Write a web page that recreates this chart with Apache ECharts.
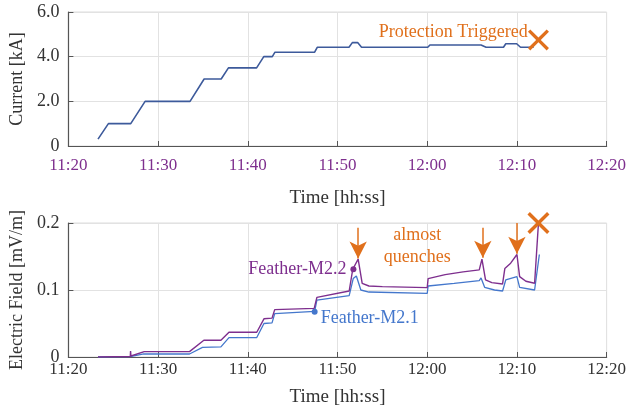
<!DOCTYPE html>
<html>
<head>
<meta charset="utf-8">
<script src="https://cdn.jsdelivr.net/npm/echarts@6/dist/echarts.min.js"></script>
<style>html,body{margin:0;padding:0;background:#fff}#c{width:629px;height:416px}</style>
</head>
<body>
<div id="c"></div>
<script>
// time values are minutes after 11:20
const startClock = [11, 20];
const xTickMin = 0, xTickMax = 60, xTickStep = 10;

const currentTime = [3.3, 4.46, 6.95, 8.55, 13.56, 15.13, 17.03, 17.84, 20.98, 21.78, 22.73, 23.03, 27.45, 27.74, 31.28, 31.65, 32.24, 32.68, 40.06, 40.3, 46.0, 46.56, 48.5, 48.76, 49.97, 50.4, 51.86];
const currentKA   = [0.31, 1.0, 1.0, 2.0, 2.0, 3.0, 3.0, 3.5, 3.5, 4.0, 4.0, 4.2, 4.2, 4.42, 4.42, 4.63, 4.63, 4.42, 4.42, 4.52, 4.52, 4.42, 4.42, 4.58, 4.58, 4.42, 4.42];

const m22Time = [3.3, 6.9, 6.93, 6.97, 8.45, 13.5, 15.1, 17.0, 17.9, 21.0, 21.8, 22.7, 23.0, 27.4, 27.7, 31.3, 31.7, 32.3, 32.75, 33.5, 35.0, 40.0, 40.1, 42.0, 44.0, 45.8, 46.1, 46.5, 47.2, 48.4, 48.65, 49.3, 50.0, 50.3, 51.0, 51.97, 52.4];
const m22Field = [0, 0.0008, 0.009, 0.0015, 0.008, 0.008, 0.025, 0.025, 0.037, 0.037, 0.057, 0.058, 0.0707, 0.0726, 0.089, 0.0985, 0.131, 0.146, 0.11, 0.106, 0.105, 0.1035, 0.117, 0.123, 0.127, 0.13, 0.146, 0.115, 0.111, 0.109, 0.132, 0.14, 0.153, 0.12, 0.113, 0.11, 0.2];

const m21Time = [3.3, 6.9, 8.4, 13.5, 14.95, 17.0, 17.9, 21.0, 21.8, 22.7, 23.0, 27.45, 27.7, 31.3, 31.75, 32.1, 32.6, 33.5, 40.0, 40.1, 43.0, 45.8, 46.0, 46.4, 47.5, 48.4, 48.75, 50.0, 50.3, 51.97, 52.5];
const m21Field = [0, 0.0005, 0.0045, 0.0045, 0.0144, 0.015, 0.029, 0.029, 0.05, 0.051, 0.0647, 0.068, 0.085, 0.0915, 0.117, 0.121, 0.10, 0.097, 0.095, 0.106, 0.110, 0.114, 0.118, 0.104, 0.100, 0.0985, 0.115, 0.12, 0.104, 0.10, 0.153];

const currentTicks = [0, 2, 4, 6];
const fieldTicks = [0, 0.1, 0.2];

// annotations (data coordinates)
const tripTime = 52.4, tripCurrent = 4.75, tripField = 0.2;
const protectionText = 'Protection Triggered', protectionAt = [42.9, 5.1];
const quenchText = 'almost\nquenches', quenchAt = [38.9, 0.166];
const arrowTimes = [32.3, 46.2, 50.0];
const arrowTop = [0.193, 0.193, 0.2];
const arrowTip = [0.147, 0.148, 0.154];
const m22Label = 'Feather-M2.2', m22LabelAt = [31.77, 0.131];
const m21Label = 'Feather-M2.1', m21LabelAt = [27.45, 0.0676];

const zip = (a, b) => a.map((v, i) => [v, b[i]]);
const FONT = 'Liberation Serif';
const PURPLE = '#7E2F8E', BLUE = '#4477CC', ORANGE = '#E0701C', NAVY = '#3D5A9B';
const crossPath = 'path://M0 11L11 0L50 39L89 0L100 11L61 50L100 89L89 100L50 61L11 100L0 89L39 50Z';

function clock(v) {
  const tot = startClock[0] * 60 + startClock[1] + v;
  const h = Math.floor(tot / 60), m = tot % 60;
  return h + ':' + (m < 10 ? '0' : '') + m;
}

function xAxisCfg(gi, labelColor, labelMargin, nameGap) {
  return {
    gridIndex: gi, type: 'value', min: xTickMin, max: xTickMax, interval: xTickStep,
    name: 'Time [hh:ss]', nameLocation: 'middle', nameGap: nameGap,
    nameTextStyle: { fontFamily: FONT, fontSize: 19, color: '#333' },
    axisLine: { lineStyle: { color: '#555', width: 1.2 } },
    axisTick: { inside: true, length: 5, lineStyle: { color: '#555' } },
    axisLabel: { fontFamily: FONT, fontSize: 17, color: labelColor, margin: labelMargin, formatter: clock },
    splitLine: { show: true, lineStyle: { color: '#e2e2e2', width: 1 } }
  };
}
function yAxisCfg(gi, name, max, interval, fmt) {
  return {
    gridIndex: gi, type: 'value', min: 0, max: max, interval: interval,
    name: name, nameLocation: 'middle', nameGap: 38,
    nameTextStyle: { fontFamily: FONT, fontSize: 18, color: '#333' },
    axisLine: { show: true, lineStyle: { color: '#555', width: 1.2 } },
    axisTick: { show: true, inside: true, length: 5, lineStyle: { color: '#555' } },
    axisLabel: { fontFamily: FONT, fontSize: 18, color: '#333', margin: 9, formatter: fmt },
    splitLine: { show: true, lineStyle: { color: '#e2e2e2', width: 1 } }
  };
}

const option = {
  animation: false,
  grid: [
    { left: 62, right: 20, top: 12, height: 134, show: true, borderColor: '#dddddd', borderWidth: 1 },
    { left: 62, right: 20, top: 223, height: 134, show: true, borderColor: '#dddddd', borderWidth: 1 }
  ],
  xAxis: [ xAxisCfg(0, PURPLE, 11, 43), xAxisCfg(1, '#333', 4, 31) ],
  yAxis: [
    yAxisCfg(0, 'Current [kA]', 6, 2, v => v === 0 ? '0' : v.toFixed(1)),
    yAxisCfg(1, 'Electric Field [mV/m]', 0.2, 0.1, v => v === 0 ? '0' : v.toFixed(1))
  ],
  series: [
    { type: 'line', xAxisIndex: 0, yAxisIndex: 0, data: zip(currentTime, currentKA), showSymbol: false,
      lineStyle: { color: NAVY, width: 1.6 }, z: 3 },
    { type: 'scatter', xAxisIndex: 0, yAxisIndex: 0, clip: false, symbol: crossPath, symbolSize: 21,
      itemStyle: { color: ORANGE, opacity: 1 }, data: [[tripTime, tripCurrent]], z: 5 },
    { type: 'scatter', xAxisIndex: 0, yAxisIndex: 0, clip: false, symbolSize: 0,
      itemStyle: { opacity: 1 }, data: [protectionAt],
      label: { show: true, position: 'inside', formatter: protectionText, fontFamily: FONT, fontSize: 18, color: ORANGE } },

    { type: 'line', xAxisIndex: 1, yAxisIndex: 1, data: zip(m21Time, m21Field), showSymbol: false,
      lineStyle: { color: BLUE, width: 1.3 }, z: 3 },
    { type: 'line', xAxisIndex: 1, yAxisIndex: 1, data: zip(m22Time, m22Field), showSymbol: false,
      lineStyle: { color: PURPLE, width: 1.4 }, z: 4 },
    { type: 'scatter', xAxisIndex: 1, yAxisIndex: 1, clip: false, symbolSize: 6, itemStyle: { color: PURPLE, opacity: 1 },
      data: [m22LabelAt], z: 6,
      label: { show: true, position: 'left', distance: 4, formatter: m22Label, fontFamily: FONT, fontSize: 18, color: PURPLE } },
    { type: 'scatter', xAxisIndex: 1, yAxisIndex: 1, clip: false, symbolSize: 6, itemStyle: { color: BLUE, opacity: 1 },
      data: [m21LabelAt], z: 6,
      label: { show: true, position: 'right', distance: 3, offset: [0, 7], formatter: m21Label, fontFamily: FONT, fontSize: 18, color: BLUE } },
    { type: 'scatter', xAxisIndex: 1, yAxisIndex: 1, clip: false, symbol: crossPath, symbolSize: 22,
      itemStyle: { color: ORANGE, opacity: 1 }, data: [[tripTime, tripField]], z: 7 },
    { type: 'scatter', xAxisIndex: 1, yAxisIndex: 1, clip: false, symbolSize: 0,
      itemStyle: { opacity: 1 }, data: [quenchAt],
      label: { show: true, position: 'inside', formatter: quenchText, fontFamily: FONT, fontSize: 18, lineHeight: 22, color: ORANGE } },
    { type: 'line', xAxisIndex: 1, yAxisIndex: 1, data: [], showSymbol: false,
      markLine: {
        silent: true, symbol: ['none', 'arrow'], symbolSize: [13, 17], label: { show: false },
        lineStyle: { color: ORANGE, width: 1.5, type: 'solid' },
        data: arrowTimes.map((t, i) => [{ coord: [t, arrowTop[i]] }, { coord: [t, arrowTip[i]] }])
      } }
  ]
};

const chart = echarts.init(document.getElementById('c'), null, { renderer: 'canvas' });
chart.setOption(option);
</script>
</body>
</html>
